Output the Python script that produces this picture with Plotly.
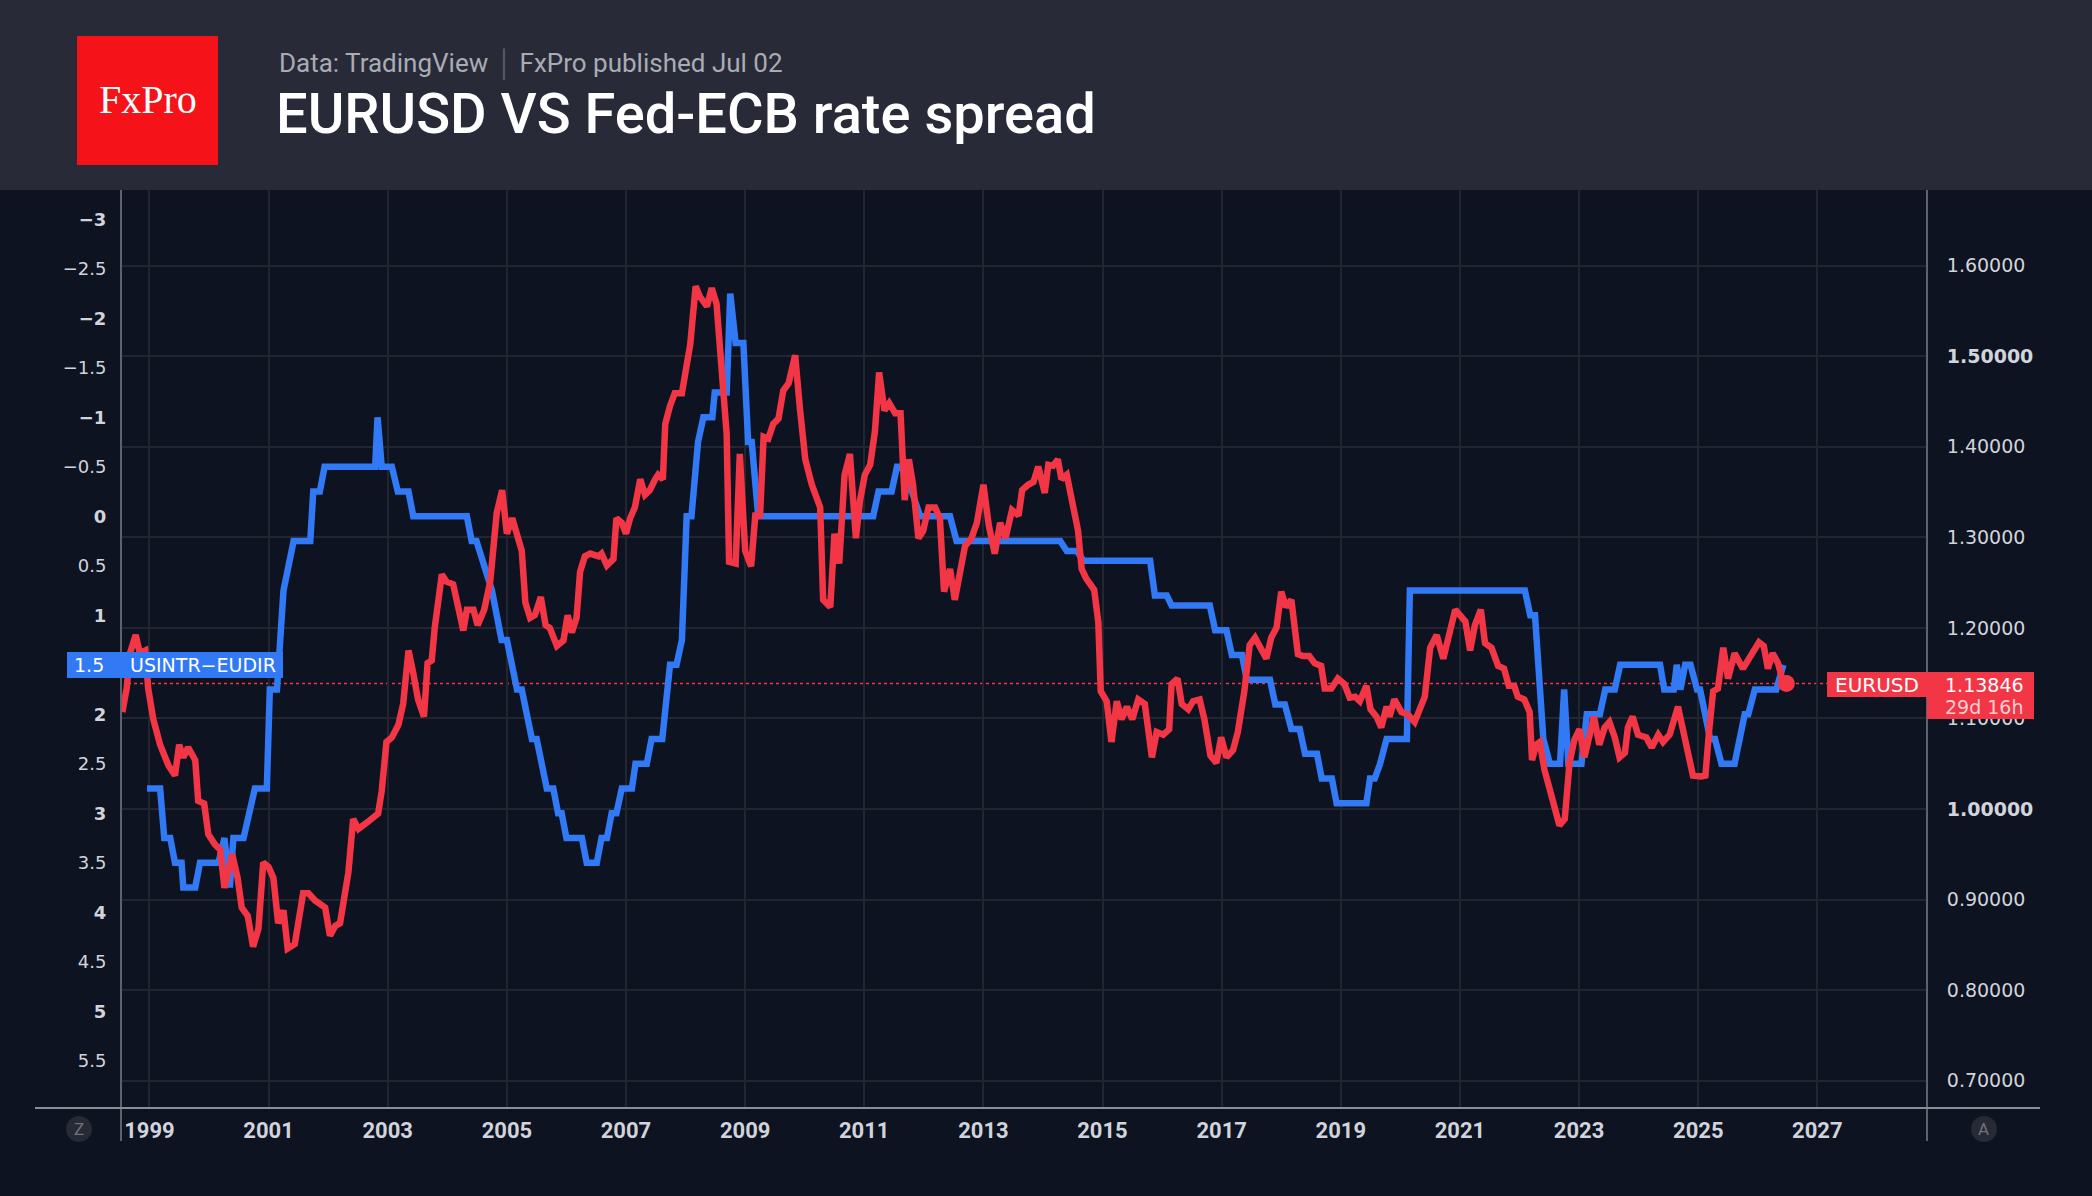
import plotly.graph_objects as go
from datetime import datetime

# ---------------- data ----------------
eur_years = [1998.545, 1998.618, 1998.674, 1998.77, 1998.84, 1998.93, 1998.98, 1999.066, 1999.18, 1999.32,
             1999.43, 1999.50, 1999.57, 1999.65, 1999.77, 1999.82, 1999.92, 1999.99, 2000.10, 2000.19,
             2000.26, 2000.32, 2000.39, 2000.48, 2000.55, 2000.65, 2000.74, 2000.83, 2000.91, 2001.00,
             2001.08, 2001.16, 2001.25, 2001.32, 2001.44, 2001.58, 2001.67, 2001.78, 2001.95, 2002.03,
             2002.12, 2002.20, 2002.34, 2002.42, 2002.51, 2002.67, 2002.84, 2002.90, 2002.98, 2003.07,
             2003.18, 2003.26, 2003.35, 2003.43, 2003.51, 2003.61, 2003.67, 2003.74, 2003.79, 2003.91,
             2003.99, 2004.10, 2004.19, 2004.27, 2004.33, 2004.44, 2004.51, 2004.62, 2004.72, 2004.83,
             2004.92, 2005.00, 2005.09, 2005.17, 2005.25, 2005.31, 2005.39, 2005.47, 2005.57, 2005.65,
             2005.72, 2005.84, 2005.95, 2006.02, 2006.09, 2006.17, 2006.23, 2006.31, 2006.40, 2006.54,
             2006.59, 2006.68, 2006.79, 2006.84, 2006.93, 2007.00, 2007.07, 2007.15, 2007.24, 2007.32,
             2007.40, 2007.49, 2007.54, 2007.62, 2007.66, 2007.74, 2007.82, 2007.94, 2007.99, 2008.08,
             2008.17, 2008.24, 2008.36, 2008.44, 2008.52, 2008.61, 2008.69, 2008.73, 2008.84, 2008.91,
             2009.00, 2009.10, 2009.17, 2009.25, 2009.31, 2009.39, 2009.47, 2009.56, 2009.64, 2009.73,
             2009.84, 2009.92, 2010.01, 2010.12, 2010.26, 2010.31, 2010.43, 2010.50, 2010.58, 2010.67,
             2010.76, 2010.86, 2010.93, 2011.01, 2011.10, 2011.18, 2011.25, 2011.34, 2011.42, 2011.52,
             2011.61, 2011.68, 2011.75, 2011.82, 2011.91, 2011.99, 2012.08, 2012.19, 2012.27, 2012.34,
             2012.44, 2012.52, 2012.61, 2012.69, 2012.80, 2012.89, 2013.00, 2013.09, 2013.19, 2013.28,
             2013.37, 2013.48, 2013.59, 2013.65, 2013.75, 2013.84, 2013.92, 2014.03, 2014.09, 2014.17,
             2014.25, 2014.31, 2014.40, 2014.48, 2014.59, 2014.65, 2014.73, 2014.86, 2014.93, 2014.97,
             2015.07, 2015.15, 2015.24, 2015.32, 2015.41, 2015.50, 2015.60, 2015.71, 2015.83, 2015.91,
             2016.02, 2016.12, 2016.16, 2016.26, 2016.33, 2016.44, 2016.52, 2016.63, 2016.71, 2016.81,
             2016.91, 2016.99, 2017.08, 2017.19, 2017.27, 2017.38, 2017.47, 2017.56, 2017.65, 2017.75,
             2017.83, 2017.92, 2018.00, 2018.08, 2018.17, 2018.28, 2018.36, 2018.47, 2018.56, 2018.67,
             2018.73, 2018.84, 2018.95, 2019.06, 2019.15, 2019.24, 2019.32, 2019.43, 2019.50, 2019.60,
             2019.68, 2019.77, 2019.82, 2019.90, 2020.02, 2020.13, 2020.24, 2020.41, 2020.50, 2020.61,
             2020.72, 2020.80, 2020.92, 2021.09, 2021.17, 2021.25, 2021.35, 2021.42, 2021.53, 2021.64,
             2021.74, 2021.82, 2021.91, 2021.97, 2022.08, 2022.17, 2022.21, 2022.28, 2022.34, 2022.42,
             2022.48, 2022.56, 2022.67, 2022.76, 2022.84, 2022.92, 2023.01, 2023.09, 2023.15, 2023.25,
             2023.34, 2023.43, 2023.51, 2023.60, 2023.68, 2023.77, 2023.82, 2023.90, 2023.99, 2024.13,
             2024.22, 2024.33, 2024.41, 2024.52, 2024.66, 2024.74, 2024.83, 2024.91, 2025.05, 2025.12,
             2025.18, 2025.25, 2025.33, 2025.42, 2025.50, 2025.61, 2025.75, 2025.89, 2026.02, 2026.10,
             2026.17, 2026.25, 2026.34, 2026.42, 2026.48]
eur_vals = [1.107, 1.133, 1.172, 1.192, 1.172, 1.175, 1.133, 1.099, 1.071, 1.048,
            1.037, 1.071, 1.057, 1.068, 1.054, 1.009, 1.006, 0.972, 0.961, 0.955,
            0.913, 0.930, 0.950, 0.924, 0.891, 0.882, 0.848, 0.868, 0.941, 0.936,
            0.924, 0.874, 0.888, 0.846, 0.851, 0.907, 0.907, 0.899, 0.891, 0.860,
            0.871, 0.874, 0.930, 0.989, 0.978, 0.986, 0.995, 1.020, 1.074, 1.079,
            1.093, 1.116, 1.175, 1.150, 1.121, 1.102, 1.161, 1.164, 1.200, 1.259,
            1.251, 1.248, 1.223, 1.197, 1.220, 1.220, 1.203, 1.220, 1.251, 1.327,
            1.352, 1.304, 1.321, 1.302, 1.285, 1.228, 1.211, 1.214, 1.234, 1.203,
            1.200, 1.180, 1.186, 1.214, 1.195, 1.211, 1.262, 1.279, 1.282, 1.279,
            1.282, 1.269, 1.276, 1.321, 1.316, 1.304, 1.321, 1.333, 1.364, 1.347,
            1.352, 1.364, 1.369, 1.364, 1.425, 1.445, 1.459, 1.459, 1.476, 1.513,
            1.577, 1.566, 1.555, 1.575, 1.558, 1.470, 1.414, 1.273, 1.271, 1.392,
            1.285, 1.268, 1.324, 1.324, 1.411, 1.409, 1.425, 1.431, 1.462, 1.470,
            1.501, 1.442, 1.386, 1.358, 1.333, 1.231, 1.223, 1.304, 1.271, 1.369,
            1.392, 1.299, 1.341, 1.369, 1.380, 1.417, 1.482, 1.440, 1.448, 1.437,
            1.437, 1.341, 1.386, 1.358, 1.299, 1.307, 1.333, 1.333, 1.321, 1.240,
            1.265, 1.231, 1.268, 1.290, 1.299, 1.316, 1.358, 1.313, 1.282, 1.316,
            1.299, 1.330, 1.324, 1.352, 1.358, 1.361, 1.378, 1.349, 1.380, 1.379,
            1.386, 1.364, 1.369, 1.341, 1.307, 1.265, 1.254, 1.242, 1.206, 1.130,
            1.119, 1.074, 1.119, 1.099, 1.113, 1.099, 1.121, 1.116, 1.057, 1.085,
            1.082, 1.088, 1.138, 1.144, 1.116, 1.110, 1.119, 1.121, 1.099, 1.059,
            1.051, 1.079, 1.057, 1.065, 1.085, 1.130, 1.181, 1.189, 1.178, 1.166,
            1.189, 1.200, 1.240, 1.223, 1.231, 1.171, 1.169, 1.169, 1.161, 1.158,
            1.133, 1.133, 1.144, 1.138, 1.123, 1.124, 1.119, 1.136, 1.110, 1.102,
            1.090, 1.113, 1.102, 1.121, 1.107, 1.104, 1.096, 1.124, 1.178, 1.192,
            1.166, 1.189, 1.220, 1.207, 1.175, 1.203, 1.220, 1.183, 1.178, 1.158,
            1.155, 1.136, 1.136, 1.124, 1.121, 1.107, 1.054, 1.071, 1.074, 1.043,
            1.026, 1.009, 0.982, 0.989, 1.051, 1.076, 1.088, 1.057, 1.074, 1.102,
            1.071, 1.090, 1.096, 1.079, 1.057, 1.062, 1.090, 1.102, 1.082, 1.079,
            1.068, 1.082, 1.074, 1.082, 1.113, 1.090, 1.059, 1.037, 1.036, 1.037,
            1.085, 1.130, 1.133, 1.178, 1.144, 1.172, 1.155, 1.169, 1.184, 1.180,
            1.155, 1.172, 1.161, 1.141, 1.13846]

spread_years = [1998.96, 1999.18, 1999.25, 1999.35, 1999.43, 1999.54, 1999.57, 1999.77, 1999.85, 2000.16,
                2000.26, 2000.35, 2000.41, 2000.58, 2000.77, 2000.97, 2001.02, 2001.14, 2001.25, 2001.42,
                2001.70, 2001.75, 2001.86, 2001.94, 2002.79, 2002.83, 2002.90, 2003.07, 2003.17, 2003.35,
                2003.43, 2004.33, 2004.41, 2004.49, 2004.75, 2004.91, 2005.00, 2005.17, 2005.25, 2005.42,
                2005.50, 2005.67, 2005.78, 2005.86, 2005.92, 2006.00, 2006.26, 2006.34, 2006.51, 2006.59,
                2006.68, 2006.76, 2006.84, 2006.93, 2007.10, 2007.16, 2007.35, 2007.43, 2007.61, 2007.74,
                2007.85, 2007.94, 2008.02, 2008.10, 2008.21, 2008.30, 2008.45, 2008.49, 2008.69, 2008.75,
                2008.84, 2008.97, 2009.05, 2009.11, 2009.22, 2011.15, 2011.24, 2011.46, 2011.55, 2011.63,
                2011.80, 2011.94, 2012.44, 2012.55, 2014.29, 2014.40, 2014.57, 2014.68, 2015.80, 2015.88,
                2016.08, 2016.16, 2016.80, 2016.89, 2017.08, 2017.17, 2017.34, 2017.42, 2017.81, 2017.90,
                2018.06, 2018.17, 2018.31, 2018.40, 2018.60, 2018.68, 2018.85, 2018.93, 2019.43, 2019.49,
                2019.57, 2019.66, 2019.77, 2020.11, 2020.16, 2022.09, 2022.18, 2022.26, 2022.40, 2022.51,
                2022.68, 2022.75, 2022.82, 2023.04, 2023.13, 2023.35, 2023.44, 2023.60, 2023.69, 2024.36,
                2024.43, 2024.59, 2024.64, 2024.70, 2024.78, 2024.87, 2024.98, 2025.03, 2025.20, 2025.28,
                2025.39, 2025.61, 2025.78, 2025.84, 2025.95, 2026.31, 2026.43]
spread_vals = [2.75, 2.75, 3.25, 3.25, 3.5, 3.5, 3.75, 3.75, 3.5, 3.5,
               3.25, 3.75, 3.25, 3.25, 2.75, 2.75, 1.75, 1.75, 0.75, 0.25,
               0.25, -0.25, -0.25, -0.5, -0.5, -1.0, -0.5, -0.5, -0.25, -0.25,
               0.0, 0.0, 0.25, 0.25, 0.75, 1.25, 1.25, 1.75, 1.75, 2.25,
               2.25, 2.75, 2.75, 3.0, 3.0, 3.25, 3.25, 3.5, 3.5, 3.25,
               3.25, 3.0, 3.0, 2.75, 2.75, 2.5, 2.5, 2.25, 2.25, 1.5,
               1.5, 1.25, 0.0, 0.0, -0.75, -1.0, -1.0, -1.25, -1.25, -2.25,
               -1.75, -1.75, -0.75, -0.75, 0.0, 0.0, -0.25, -0.25, -0.5, -0.5,
               -0.25, 0.0, 0.0, 0.25, 0.25, 0.35, 0.35, 0.45, 0.45, 0.8,
               0.8, 0.9, 0.9, 1.15, 1.15, 1.4, 1.4, 1.65, 1.65, 1.9,
               1.9, 2.15, 2.15, 2.4, 2.4, 2.65, 2.65, 2.9, 2.9, 2.65,
               2.65, 2.5, 2.25, 2.25, 0.75, 0.75, 1.0, 1.0, 2.25, 2.5,
               2.5, 1.75, 2.5, 2.5, 2.0, 2.0, 1.75, 1.75, 1.5, 1.5,
               1.75, 1.75, 1.5, 1.75, 1.5, 1.5, 1.75, 1.75, 2.25, 2.25,
               2.5, 2.5, 2.0, 2.0, 1.75, 1.75, 1.5]

x_tick_years = list(range(1999, 2028, 2))
left_ticks = [-3, -2.5, -2, -1.5, -1, -0.5, 0, 0.5, 1, 1.5, 2, 2.5, 3, 3.5, 4, 4.5, 5, 5.5]
right_ticks = [0.7, 0.8, 0.9, 1.0, 1.1, 1.2, 1.3, 1.4, 1.5, 1.6]
right_bold = [1.0, 1.5]
last_price = eur_vals[-1]
last_spread = spread_vals[-1]
countdown = "29d 16h"

# ---------------- helpers ----------------
W, H = 2092, 1196
L, R, T, B = 121, 1927, 190, 1108


def yr2dt(y):
    yr = int(y)
    a = datetime(yr, 1, 1)
    b = datetime(yr + 1, 1, 1)
    return a + (b - a) * (y - yr)


def px(x):
    return (x - L) / (R - L)


def py(y):
    return (B - y) / (B - T)


BG = "#0d1320"
HEAD = "#282b37"
GRID = "#22262f"
RED = "#f23645"
BLUE = "#3179f5"
TXT = "#d1d4dc"


def fmt_left(v):
    s = ("%g" % abs(v))
    s = ("\u2212" + s) if v < 0 else s
    return "<b>%s</b>" % s if float(v).is_integer() else s


def fmt_right(v):
    s = "%.5f" % v
    return "<b>%s</b>" % s if any(abs(v - b) < 1e-9 for b in right_bold) else s


fig = go.Figure()

fig.add_trace(go.Scatter(
    x=[yr2dt(v) for v in spread_years], y=spread_vals, mode="lines",
    line=dict(color=BLUE, width=6.5), yaxis="y", hoverinfo="skip", showlegend=False))
fig.add_trace(go.Scatter(
    x=[yr2dt(v) for v in eur_years], y=eur_vals, mode="lines",
    line=dict(color=RED, width=6.5), yaxis="y2", hoverinfo="skip", showlegend=False))
fig.add_trace(go.Scatter(
    x=[yr2dt(eur_years[-1])], y=[last_price], mode="markers",
    marker=dict(color=RED, size=17), yaxis="y2", hoverinfo="skip", showlegend=False))

x_left = 1998.523
x_right = 2028.84

shapes = []
# header band
shapes.append(dict(type="rect", xref="paper", yref="paper", x0=px(0), x1=px(W), y0=py(190), y1=py(0),
                   fillcolor=HEAD, line=dict(width=0), layer="above"))
# logo box
shapes.append(dict(type="rect", xref="paper", yref="paper", x0=px(77), x1=px(218), y0=py(165), y1=py(36),
                   fillcolor="#f51219", line=dict(width=0), layer="above"))
# axis lines
shapes.append(dict(type="line", xref="paper", yref="paper", x0=0, x1=0, y0=py(1141), y1=py(190),
                   line=dict(color="#5f626d", width=2), layer="above"))
shapes.append(dict(type="line", xref="paper", yref="paper", x0=1, x1=1, y0=py(1141), y1=py(190),
                   line=dict(color="#5f626d", width=2), layer="above"))
shapes.append(dict(type="line", xref="paper", yref="paper", x0=px(35), x1=px(2040), y0=0, y1=0,
                   line=dict(color="#8a8d96", width=2), layer="above"))
# current price dotted line
shapes.append(dict(type="line", xref="paper", yref="y2", x0=px(128), x1=px(1827), y0=last_price, y1=last_price,
                   line=dict(color=RED, width=1.5, dash="dot"), layer="below"))
# blue series label box
shapes.append(dict(type="rect", xref="paper", yref="paper", x0=px(67), x1=px(283), y0=py(678), y1=py(652),
                   fillcolor=BLUE, line=dict(width=0), layer="above"))
# red labels
shapes.append(dict(type="rect", xref="paper", yref="paper", x0=px(1827), x1=px(1927), y0=py(697), y1=py(672),
                   fillcolor=RED, line=dict(width=0), layer="above"))
shapes.append(dict(type="rect", xref="paper", yref="paper", x0=px(1927), x1=px(2034), y0=py(719), y1=py(672),
                   fillcolor=RED, line=dict(width=0), layer="above"))
# Z / A buttons
for cx in (79, 1984):
    shapes.append(dict(type="circle", xref="paper", yref="paper", x0=px(cx - 13), x1=px(cx + 13),
                       y0=py(1129 + 13), y1=py(1129 - 13), fillcolor="#262a35", line=dict(width=0),
                       layer="above"))

ann = []
ann.append(dict(xref="paper", yref="paper", x=px(147.5), y=py(100), text="FxPro", showarrow=False,
                font=dict(family="Liberation Serif", size=40, color="white"), xanchor="center", yanchor="middle"))
ann.append(dict(xref="paper", yref="paper", x=px(277), y=py(64),
                text="Data: TradingView <span style='color:#5a5d68'>\u2502</span> FxPro published Jul 02",
                showarrow=False, font=dict(family="Roboto", size=26, color="#a9acb5"),
                xanchor="left", yanchor="middle"))
ann.append(dict(xref="paper", yref="paper", x=px(274), y=py(114), text="EURUSD VS Fed-ECB rate spread",
                showarrow=False, font=dict(family="Roboto", size=56, color="white", weight=500),
                xanchor="left", yanchor="middle"))
ann.append(dict(xref="paper", yref="paper", x=px(106), y=py(665), text="%g" % last_spread, showarrow=False,
                font=dict(family="DejaVu Sans", size=19, color="white"), xanchor="right", yanchor="middle"))
ann.append(dict(xref="paper", yref="paper", x=px(128), y=py(665), text="USINTR\u2212EUDIR", showarrow=False,
                font=dict(family="DejaVu Sans", size=19, color="white"), xanchor="left", yanchor="middle"))
ann.append(dict(xref="paper", yref="paper", x=px(1877), y=py(685), text="EURUSD", showarrow=False,
                font=dict(family="DejaVu Sans", size=20, color="white"), xanchor="center", yanchor="middle"))
ann.append(dict(xref="paper", yref="paper", x=px(2026), y=py(685), text="%.5f" % last_price, showarrow=False,
                font=dict(family="DejaVu Sans", size=19, color="white"), xanchor="right", yanchor="middle"))
ann.append(dict(xref="paper", yref="paper", x=px(2026), y=py(707), text=countdown, showarrow=False,
                font=dict(family="DejaVu Sans", size=19, color="#fbd0d4"), xanchor="right", yanchor="middle"))
ann.append(dict(xref="paper", yref="paper", x=px(79), y=py(1129), text="Z", showarrow=False,
                font=dict(family="Roboto", size=17, color="#6f727c"), xanchor="center", yanchor="middle"))
ann.append(dict(xref="paper", yref="paper", x=px(1984), y=py(1129), text="A", showarrow=False,
                font=dict(family="Roboto", size=17, color="#6f727c"), xanchor="center", yanchor="middle"))

fig.update_layout(
    width=W, height=H, margin=dict(l=L, r=W - R, t=T, b=H - B),
    paper_bgcolor=BG, plot_bgcolor=BG, showlegend=False,
    xaxis=dict(type="date", range=[yr2dt(x_left), yr2dt(x_right)],
               tickmode="array", tickvals=[datetime(y, 1, 1) for y in x_tick_years],
               ticktext=["<b>%d</b>" % y for y in x_tick_years],
               showgrid=True, gridcolor=GRID, gridwidth=1.5, zeroline=False, showline=False,
               ticks="outside", ticklen=3, tickcolor=BG,
               tickfont=dict(family="Roboto", size=22, color=TXT)),
    yaxis=dict(range=[5.978, -3.297], tickmode="array", tickvals=left_ticks,
               ticktext=[fmt_left(v) for v in left_ticks], showgrid=False, zeroline=False,
               showline=False, ticks="outside", ticklen=10, tickcolor=BG,
               tickfont=dict(family="DejaVu Sans", size=18, color=TXT)),
    yaxis2=dict(range=[0.6699, 1.6834], overlaying="y", side="right", tickmode="array",
                tickvals=right_ticks, ticktext=[fmt_right(v) for v in right_ticks],
                showgrid=True, gridcolor=GRID, gridwidth=1.5, zeroline=False, showline=False,
                ticks="outside", ticklen=15, tickcolor=BG,
                tickfont=dict(family="DejaVu Sans", size=19, color=TXT)),
    shapes=shapes, annotations=ann,
)

fig.write_html("out.html")
